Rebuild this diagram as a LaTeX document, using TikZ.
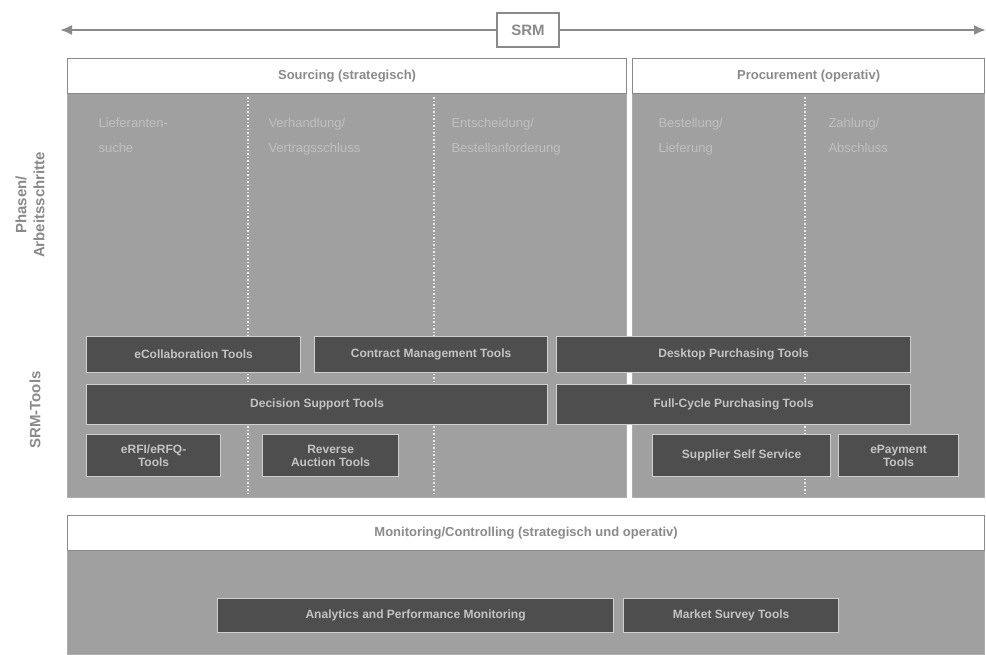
\documentclass[tikz,border=0pt]{standalone}
\usepackage{fontspec}
\setmainfont{Liberation Sans}
\usetikzlibrary{arrows.meta}
\definecolor{areagray}{HTML}{A0A0A0}
\definecolor{boxdark}{HTML}{4E4E4E}
\definecolor{txtgray}{HTML}{8A8A8A}
\definecolor{lightxt}{HTML}{C4C4C4}
\definecolor{phasetxt}{HTML}{C0C0C0}
\begin{document}
\begin{tikzpicture}[x=1pt,y=-1pt,
  header/.style={draw=txtgray,line width=1.2pt,fill=white,inner sep=0pt},
  area/.style={draw=txtgray!70,line width=1pt,fill=areagray},
  toolbox/.style={draw=areagray!50,line width=1.2pt,fill=boxdark,inner sep=0pt},
  tooltxt/.style={text=lightxt,font=\bfseries\fontsize{12}{13}\selectfont,align=center},
  headtxt/.style={text=txtgray,font=\bfseries\fontsize{13}{15}\selectfont},
  phasetext/.style={text=phasetxt,font=\fontsize{13}{25}\selectfont,align=left,anchor=north west},
  divider/.style={draw=white!80!areagray,line width=1.5pt,dotted},
  sidelbl/.style={text=txtgray,font=\bfseries\fontsize{15}{18}\selectfont,align=center,rotate=90}
]
\useasboundingbox (0,0) rectangle (986,654);
\fill[white] (0,0) rectangle (986,654);

% SRM arrow
\node[draw=txtgray,line width=1.4pt,fill=white,minimum width=62pt,minimum height=34pt,headtxt,font=\bfseries\fontsize{15}{17}\selectfont] (srm) at (528,30) {SRM};
\coordinate (al) at (60,30);
\coordinate (ar) at (986,30);
\draw[txtgray,line width=2pt,-{Latex[length=12pt,width=10pt]}] (srm.west) -- (al);
\draw[txtgray,line width=2pt,-{Latex[length=12pt,width=10pt]}] (srm.east) -- (ar);

% Sourcing
\draw[area] (67,93) rectangle (626,497);
\node[header,minimum width=559pt,minimum height=35pt,anchor=north west] (srcH) at (67,58) {};
\node[headtxt] (srcT) at (srcH.center) {Sourcing (strategisch)};
% Procurement
\draw[area] (632,93) rectangle (984,497);
\node[header,minimum width=352pt,minimum height=35pt,anchor=north west] (prcH) at (632,58) {};
\node[headtxt] (prcT) at (prcH.center) {Procurement (operativ)};

% dividers
\draw[divider] (248,97) -- (248,493);
\draw[divider] (434,97) -- (434,493);
\draw[divider] (805,97) -- (805,493);

% phase texts
\node[phasetext] (p1) at (95,115) {Lieferanten-\\suche};
\node[phasetext] (p2) at (265,115) {Verhandlung/\\Vertragsschluss};
\node[phasetext] (p3) at (448,115) {Entscheidung/\\Bestellanforderung};
\node[phasetext] (p4) at (655,115) {Bestellung/\\Lieferung};
\node[phasetext] (p5) at (825,115) {Zahlung/\\Abschluss};

% tools row 1
\node[toolbox,minimum width=214pt,minimum height=36pt,anchor=north west] (t1) at (86,336) {};
\node[tooltxt] at (t1.center) {eCollaboration Tools};
\node[toolbox,minimum width=233pt,minimum height=36pt,anchor=north west] (t2) at (314,336) {};
\node[tooltxt] at (t2.center) {Contract Management Tools};
\node[toolbox,minimum width=354pt,minimum height=36pt,anchor=north west] (t3) at (556,336) {};
\node[tooltxt] at (t3.center) {Desktop Purchasing Tools};
% row 2
\node[toolbox,minimum width=461pt,minimum height=40pt,anchor=north west] (t4) at (86,384) {};
\node[tooltxt] at (t4.center) {Decision Support Tools};
\node[toolbox,minimum width=354pt,minimum height=40pt,anchor=north west] (t5) at (556,384) {};
\node[tooltxt] at (t5.center) {Full-Cycle Purchasing Tools};
% row 3
\node[toolbox,minimum width=134pt,minimum height=42pt,anchor=north west] (t6) at (86,434) {};
\node[tooltxt] at (t6.center) {eRFI/eRFQ-\\Tools};
\node[toolbox,minimum width=136pt,minimum height=42pt,anchor=north west] (t7) at (262,434) {};
\node[tooltxt] at (t7.center) {Reverse\\Auction Tools};
\node[toolbox,minimum width=178pt,minimum height=42pt,anchor=north west] (t8) at (652,434) {};
\node[tooltxt] at (t8.center) {Supplier Self Service};
\node[toolbox,minimum width=120pt,minimum height=42pt,anchor=north west] (t9) at (838,434) {};
\node[tooltxt] at (t9.center) {ePayment\\Tools};

% Monitoring
\draw[area] (67,550) rectangle (984,654);
\node[header,minimum width=917pt,minimum height=35pt,anchor=north west] (monH) at (67,515) {};
\node[headtxt] (monT) at (monH.center) {Monitoring/Controlling (strategisch und operativ)};
\node[toolbox,minimum width=396pt,minimum height=34pt,anchor=north west] (m1) at (217,598) {};
\node[tooltxt] at (m1.center) {Analytics and Performance Monitoring};
\node[toolbox,minimum width=215pt,minimum height=34pt,anchor=north west] (m2) at (623,598) {};
\node[tooltxt] at (m2.center) {Market Survey Tools};

% side labels
\node[sidelbl] (lph) at (30,205) {Phasen/\\Arbeitsschritte};
\node[sidelbl] (ltl) at (35,410) {SRM-Tools};
\end{tikzpicture}
\end{document}
